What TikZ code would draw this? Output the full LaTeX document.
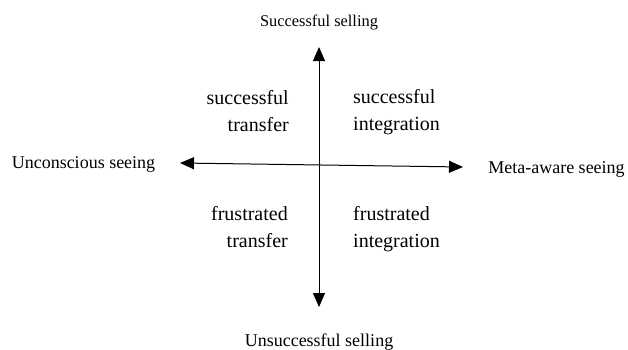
\documentclass[tikz,border=0pt]{standalone}
\usepackage{fontspec}
\setmainfont{Liberation Serif}
\usetikzlibrary{arrows.meta,positioning}

\begin{document}
\begin{tikzpicture}[x=1pt,y=1pt,
  axis/.style={line width=1pt, {Triangle[length=14pt,width=12pt]}-{Triangle[length=14pt,width=12pt]}},
  pole/.style={font=\fontsize{18}{20}\selectfont, inner sep=0pt},
  quad/.style={font=\fontsize{20}{27}\selectfont, inner sep=0pt}]
  \useasboundingbox (0,0) rectangle (628,349);
  % end labels of the axes
  \node[pole, font=\fontsize{16.4}{20}\selectfont] (succ) at (319,327) {Successful selling};
  \node[pole] (unsucc) at (319,7) {Unsuccessful selling};
  \node[pole] (unconsc) at (83.5,185) {Unconscious seeing};
  \node[pole] (meta) at (556.5,180) {Meta-aware seeing};
  % axes
  \coordinate (w) at (180,186);
  \coordinate (e) at (463,182);
  \coordinate (n) at (319,302);
  \coordinate (s) at (319,42);
  \draw[axis] (w) -- (e);
  \draw[axis] (n) -- (s);
  % quadrants
  \node[quad, align=right, anchor=east] (st) at (289,238) {successful\\transfer};
  \node[quad, align=left, anchor=west] (si) at (353,237) {successful\\integration};
  \node[quad, align=right, anchor=east] (ft) at (288,122) {frustrated\\transfer};
  \node[quad, align=left, anchor=west] (fi) at (353,120) {frustrated\\integration};
\end{tikzpicture}
\end{document}
